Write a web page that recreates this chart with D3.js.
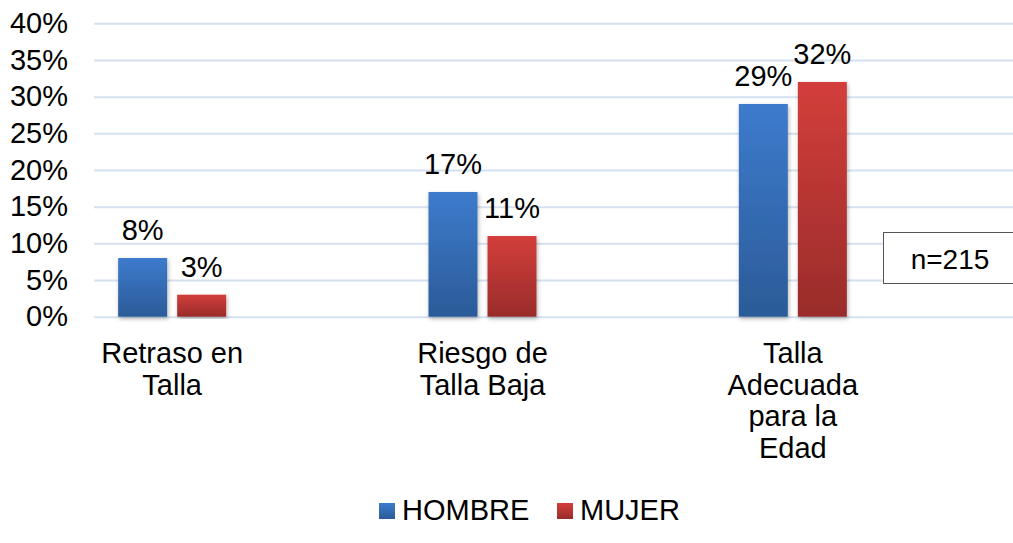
<!DOCTYPE html>
<html lang="es">
<head>
  <meta charset="UTF-8">
  <title>Talla por sexo</title>
  <script src="https://d3js.org/d3.v7.min.js"></script>
  <style>
    body { margin: 0; background: #fff; }
    text { font-family: "Liberation Sans", Arial, sans-serif; fill: #000; }
  </style>
</head>
<body>
  <script>
    // data
    const categories = ["Retraso en Talla", "Riesgo de Talla Baja", "Talla Adecuada para la Edad"];
    const seriesNames = ["HOMBRE", "MUJER"];
    const hombre = [8, 17, 29];
    const mujer = [3, 11, 32];
    const yTicks = [0, 5, 10, 15, 20, 25, 30, 35, 40];
    const note = "n=215";

    const width = 1013, height = 543;
    const gridLeft = 94;
    const fontSize = 29;

    const svg = d3.select("body").append("svg")
      .attr("width", width)
      .attr("height", height);

    const defs = svg.append("defs");
    const grads = [
      { id: "gBlue", top: "#3d7bcd", bottom: "#2b5b98" },
      { id: "gRed", top: "#d33e3b", bottom: "#992c2a" }
    ];
    grads.forEach(g => {
      const lg = defs.append("linearGradient").attr("id", g.id)
        .attr("x1", 0).attr("y1", 0).attr("x2", 0).attr("y2", 1);
      lg.append("stop").attr("offset", "0%").attr("stop-color", g.top);
      lg.append("stop").attr("offset", "100%").attr("stop-color", g.bottom);
    });
    defs.append("filter").attr("id", "shadow")
      .attr("x", "-20%").attr("y", "-5%").attr("width", "140%").attr("height", "115%")
      .append("feDropShadow")
      .attr("dx", 1).attr("dy", 2).attr("stdDeviation", 2)
      .attr("flood-color", "#000").attr("flood-opacity", 0.3);

    // scales
    const y = d3.scaleLinear().domain([0, 40]).range([316.7, 23.3]);

    const x0 = d3.scaleBand()
      .domain(categories)
      .range([17, 948]);

    const groupW = 108;
    const x1 = d3.scaleBand()
      .domain(seriesNames)
      .range([x0.bandwidth() / 2 - groupW / 2, x0.bandwidth() / 2 + groupW / 2])
      .paddingInner(0.17);

    // gridlines + y axis
    const yAxis = svg.append("g")
      .attr("transform", `translate(${gridLeft},0)`)
      .call(d3.axisLeft(y).tickValues(yTicks).tickSize(-(width - gridLeft)).tickPadding(26)
        .tickFormat(d => d + "%"));
    yAxis.select(".domain").remove();
    yAxis.selectAll(".tick line").attr("stroke", "#d5e1f1").attr("stroke-width", 2);
    yAxis.selectAll(".tick text")
      .style("font-size", fontSize + "px")
      .style("font-family", "'Liberation Sans', Arial, sans-serif")
      .attr("fill", "#000");

    // bars
    const rows = categories.map((c, i) => ({ cat: c, vals: [hombre[i], mujer[i]] }));
    const fills = ["url(#gBlue)", "url(#gRed)"];

    const groups = svg.selectAll("g.cat")
      .data(rows).enter().append("g")
      .attr("class", "cat")
      .attr("transform", d => `translate(${x0(d.cat)},0)`);

    groups.selectAll("rect")
      .data(d => d.vals.map((v, j) => ({ s: seriesNames[j], v: v, j: j })))
      .enter().append("rect")
      .attr("x", d => x1(d.s))
      .attr("y", d => y(d.v))
      .attr("width", x1.bandwidth())
      .attr("height", d => y(0) - y(d.v))
      .attr("fill", d => fills[d.j])
      .attr("filter", "url(#shadow)");

    groups.selectAll("text.val")
      .data(d => d.vals.map((v, j) => ({ s: seriesNames[j], v: v })))
      .enter().append("text")
      .attr("class", "val")
      .attr("x", d => x1(d.s) + x1.bandwidth() / 2)
      .attr("y", d => y(d.v) - 18)
      .attr("text-anchor", "middle")
      .style("font-size", fontSize + "px")
      .text(d => d.v + "%");

    // category labels, wrapped
    const wrapW = 150, lineH = 31.7;
    categories.forEach(c => {
      const cx = x0(c) + x0.bandwidth() / 2;
      const t = svg.append("text")
        .attr("text-anchor", "middle")
        .style("font-size", fontSize + "px");
      const words = c.split(" ");
      let lines = [], cur = [];
      const probe = t.append("tspan");
      words.forEach(w => {
        const test = cur.concat(w).join(" ");
        probe.text(test);
        if (probe.node().getComputedTextLength() > wrapW && cur.length) {
          lines.push(cur.join(" "));
          cur = [w];
        } else {
          cur.push(w);
        }
      });
      lines.push(cur.join(" "));
      probe.remove();
      lines.forEach((l, i) => {
        t.append("tspan").attr("x", cx).attr("y", 363 + i * lineH).text(l);
      });
    });

    // legend
    const legendX = [379, 557];
    seriesNames.forEach((s, i) => {
      svg.append("rect")
        .attr("x", legendX[i]).attr("y", 503)
        .attr("width", 16).attr("height", 16)
        .attr("fill", fills[i]);
      svg.append("text")
        .attr("x", legendX[i] + 23).attr("y", 520)
        .style("font-size", fontSize + "px")
        .text(s);
    });

    // n box
    svg.append("rect")
      .attr("x", 883.5).attr("y", 232.5)
      .attr("width", 140).attr("height", 51)
      .attr("fill", "#fff")
      .attr("stroke", "#555").attr("stroke-width", 1);
    svg.append("text")
      .attr("x", 950).attr("y", 269)
      .attr("text-anchor", "middle")
      .style("font-size", "28px")
      .text(note);
  </script>
</body>
</html>
